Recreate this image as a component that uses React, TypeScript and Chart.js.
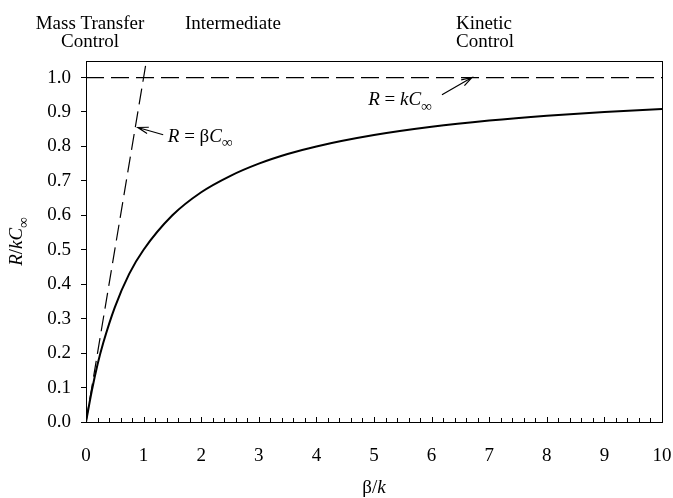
import React, { useEffect, useRef } from "react";
import { Chart, registerables } from "chart.js";

Chart.register(...registerables);

const SERIF = '"Liberation Serif", "Times New Roman", serif';

// Rate ratio curve R/kC∞ against β/k
const betaK = [0, 0.1, 0.2, 0.3, 0.5, 0.75, 1, 1.5, 2, 2.5, 3, 3.5, 4, 5, 6, 7, 8, 9, 10];
const ratio = [0, 0.09, 0.167, 0.23, 0.333, 0.43, 0.5, 0.6, 0.667, 0.714, 0.75, 0.778, 0.8, 0.833, 0.857, 0.875, 0.889, 0.9, 0.909];

// Mass-transfer limit R = βC∞
const mtX = [0, 1.05];
const mtY = [0, 1.05];

// Kinetic limit R = kC∞
const kinX = [0, 10];
const kinY = [1, 1];

const xTicks = [0, 1, 2, 3, 4, 5, 6, 7, 8, 9, 10];
const yTicks = [0, 0.1, 0.2, 0.3, 0.4, 0.5, 0.6, 0.7, 0.8, 0.9, 1.0];

type Seg = { t: string; i?: boolean; sub?: boolean };

function drawRich(ctx: CanvasRenderingContext2D, segs: Seg[], x: number, y: number, size: number, align: "left" | "center") {
  const fontOf = (s: Seg) => `${s.i ? "italic " : ""}${s.sub ? Math.round(size * 0.78) : size}px ${SERIF}`;
  const widths = segs.map((s) => {
    ctx.font = fontOf(s);
    return ctx.measureText(s.t).width;
  });
  const total = widths.reduce((a, b) => a + b, 0);
  let cx = align === "center" ? x - total / 2 : x;
  ctx.textAlign = "left";
  ctx.textBaseline = "alphabetic";
  segs.forEach((s, k) => {
    ctx.font = fontOf(s);
    ctx.fillText(s.t, cx, y + (s.sub ? size * 0.3 : 0));
    cx += widths[k];
  });
}

function arrow(ctx: CanvasRenderingContext2D, x0: number, y0: number, x1: number, y1: number) {
  const a = Math.atan2(y1 - y0, x1 - x0);
  const L = 11;
  ctx.beginPath();
  ctx.moveTo(x0, y0);
  ctx.lineTo(x1, y1);
  ctx.moveTo(x1 - L * Math.cos(a - 0.3), y1 - L * Math.sin(a - 0.3));
  ctx.lineTo(x1, y1);
  ctx.lineTo(x1 - L * Math.cos(a + 0.3), y1 - L * Math.sin(a + 0.3));
  ctx.stroke();
}

const decor = {
  id: "decor",
  afterDraw(chart: any) {
    const ctx: CanvasRenderingContext2D = chart.ctx;
    const { left, right, top, bottom } = chart.chartArea;
    const xs = chart.scales.x;
    const ys = chart.scales.y;
    ctx.save();
    ctx.strokeStyle = "#000";
    ctx.fillStyle = "#000";
    ctx.lineWidth = 1;
    // frame
    ctx.strokeRect(Math.round(left) + 0.5, Math.round(top) + 0.5, Math.round(right - left), Math.round(bottom - top));
    // x minor/major tick marks (inside)
    ctx.beginPath();
    for (let k = 0; k <= 50; k++) {
      const v = k * 0.2;
      const px = Math.round(xs.getPixelForValue(v)) + 0.5;
      const len = k % 5 === 0 ? 5 : 4;
      ctx.moveTo(px, bottom);
      ctx.lineTo(px, bottom - len);
    }
    ctx.stroke();

    // annotation 1: R = βC∞
    ctx.lineWidth = 1.2;
    arrow(ctx, xs.getPixelForValue(1.34), ys.getPixelForValue(0.834), xs.getPixelForValue(0.9), ys.getPixelForValue(0.855));
    drawRich(ctx, [{ t: "R", i: true }, { t: " = β" }, { t: "C", i: true }, { t: "∞", i: true, sub: true }],
      xs.getPixelForValue(1.42), ys.getPixelForValue(0.814), 19, "left");
    // annotation 2: R = kC∞
    arrow(ctx, xs.getPixelForValue(6.18), ys.getPixelForValue(0.95), xs.getPixelForValue(6.7), ys.getPixelForValue(1.0));
    drawRich(ctx, [{ t: "R", i: true }, { t: " = " }, { t: "kC", i: true }, { t: "∞", i: true, sub: true }],
      xs.getPixelForValue(4.9), ys.getPixelForValue(0.92), 19, "left");

    // top region labels
    drawRich(ctx, [{ t: "Mass Transfer" }], 90, 29, 19, "center");
    drawRich(ctx, [{ t: "Control" }], 90, 47, 19, "center");
    drawRich(ctx, [{ t: "Intermediate" }], 233, 29, 19, "center");
    drawRich(ctx, [{ t: "Kinetic" }], 484, 29, 19, "center");
    drawRich(ctx, [{ t: "Control" }], 485, 47, 19, "center");

    // axis titles
    drawRich(ctx, [{ t: "β/" }, { t: "k", i: true }], (left + right) / 2, 493, 19, "center");
    ctx.save();
    ctx.translate(22, (top + bottom) / 2);
    ctx.rotate(-Math.PI / 2);
    drawRich(ctx, [{ t: "R", i: true }, { t: "/" }, { t: "kC", i: true }, { t: "∞", i: true, sub: true }], 0, 0, 19, "center");
    ctx.restore();
    ctx.restore();
  },
};

export default function App() {
  const ref = useRef<HTMLCanvasElement | null>(null);
  useEffect(() => {
    document.body.style.margin = "0";
    const canvas = ref.current;
    if (!canvas) return;
    const chart = new Chart(canvas, {
      type: "line",
      data: {
        datasets: [
          {
            data: betaK.map((x, k) => ({ x, y: ratio[k] })),
            borderColor: "#000",
            borderWidth: 2,
            pointRadius: 0,
            cubicInterpolationMode: "monotone",
            fill: false,
          },
          {
            data: mtX.map((x, k) => ({ x, y: mtY[k] })),
            borderColor: "#000",
            borderWidth: 1.2,
            borderDash: [16, 7],
            pointRadius: 0,
            fill: false,
          },
          {
            data: kinX.map((x, k) => ({ x, y: kinY[k] })),
            borderColor: "#000",
            borderWidth: 1.2,
            borderDash: [18, 7],
            pointRadius: 0,
            fill: false,
          },
        ],
      },
      options: {
        responsive: false,
        devicePixelRatio: 1,
        animation: false,
        layout: { padding: { top: 61, right: 11, left: 0, bottom: 0 } },
        plugins: { legend: { display: false }, tooltip: { enabled: false } },
        scales: {
          x: {
            type: "linear",
            min: 0,
            max: 10,
            afterFit: (s: any) => { s.height = 76; s.paddingLeft = 0; s.paddingRight = 0; },
            afterBuildTicks: (s: any) => { s.ticks = xTicks.map((v) => ({ value: v })); },
            ticks: { color: "#000", font: { family: SERIF, size: 19 }, padding: 23, maxRotation: 0 },
            grid: { display: true, drawOnChartArea: false, drawTicks: false, color: "#000" },
            border: { display: true, color: "#000", width: 1 },
          },
          y: {
            type: "linear",
            min: 0,
            max: 1.048,
            afterFit: (s: any) => { s.width = 86; s.paddingTop = 0; s.paddingBottom = 0; },
            afterBuildTicks: (s: any) => { s.ticks = yTicks.map((v) => ({ value: v })); },
            ticks: {
              color: "#000",
              font: { family: SERIF, size: 19 },
              padding: 10,
              callback: (v: any) => Number(v).toFixed(1),
            },
            grid: { display: true, drawOnChartArea: false, drawTicks: true, tickLength: 5, color: "#000" },
            border: { display: true, color: "#000", width: 1 },
          },
        },
      },
      plugins: [decor],
    } as any);
    return () => chart.destroy();
  }, []);
  return <canvas ref={ref} width={673} height={498} style={{ display: "block" }} />;
}
